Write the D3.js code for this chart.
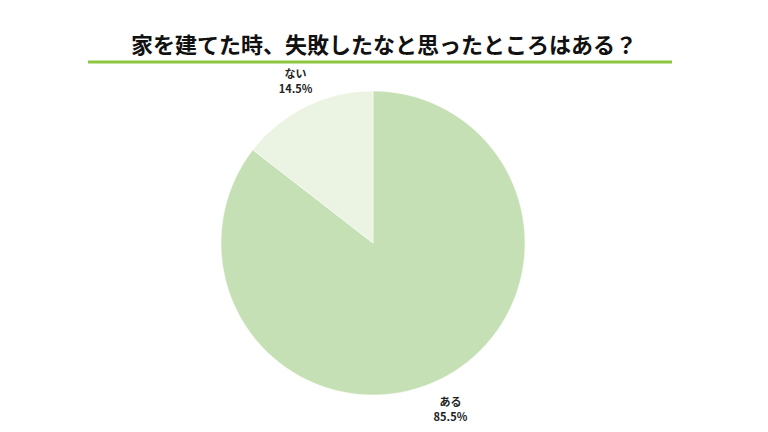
<!DOCTYPE html>
<html><head><meta charset="utf-8">
<script src="https://cdn.jsdelivr.net/npm/d3@7"></script>
<style>body{margin:0;background:#fff}</style>
</head><body>
<svg id="c" width="768" height="432"></svg>
<script>
const title = "家を建てた時、失敗したなと思ったところはある？";
const categories = ["ある", "ない"];
const values = [85.5, 14.5];
const colors = ["#c5e0b4", "#ebf3e3"];

const svg = d3.select("#c");
const font = "'Noto Sans CJK JP', sans-serif";
svg.append("text").attr("x", 384).attr("y", 53).attr("text-anchor", "middle")
  .attr("font-family", font).attr("font-weight", "bold").attr("font-size", 22)
  .attr("fill", "#111").text(title);
svg.append("line").attr("x1", 88).attr("x2", 672).attr("y1", 62).attr("y2", 62)
  .attr("stroke", "#8dc63f").attr("stroke-width", 3);

const cx = 373, cy = 243, r = 152;
const pie = d3.pie().sort(null).value(d => d)(values);
const arc = d3.arc().innerRadius(0).outerRadius(r);
const g = svg.append("g").attr("transform", `translate(${cx},${cy})`);
g.selectAll("path").data(pie).join("path").attr("d", arc)
  .attr("fill", (d, i) => colors[i]).attr("stroke", "#fff").attr("stroke-width", 0.5);

const labelArc = d3.arc().innerRadius(r + 24).outerRadius(r + 24);
const dy = [10, -2];
pie.forEach((d, i) => {
  const [x, y] = labelArc.centroid(d);
  const t = g.append("text").attr("text-anchor", "middle").attr("font-family", font)
    .attr("font-weight", "bold").attr("font-size", 11).attr("fill", "#222");
  t.append("tspan").attr("x", x).attr("y", y + dy[i] - 5).text(categories[i]);
  t.append("tspan").attr("x", x).attr("y", y + dy[i] + 10).text(values[i].toFixed(1) + "%");
});
</script>
</body></html>
